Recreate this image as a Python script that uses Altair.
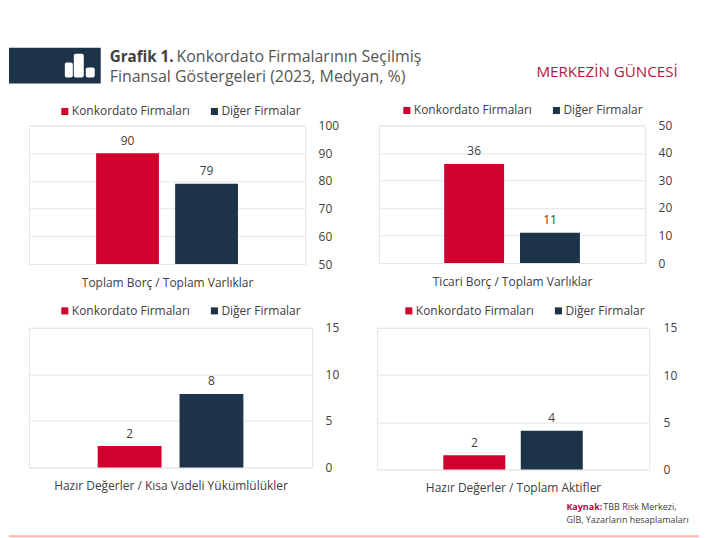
import altair as alt
import pandas as pd

FONT = "Open Sans"
TXT = "#404040"
RED = "#d0002f"
NAVY = "#1d3349"
GRID = "#e6e6e6"
series = ["Konkordato Firmaları", "Diğer Firmalar"]

titles = ["Toplam Borç / Toplam Varlıklar", "Ticari Borç / Toplam Varlıklar",
          "Hazır Değerler / Kısa Vadeli Yükümlülükler", "Hazır Değerler / Toplam Aktifler"]
values = [[90, 79], [36, 11], [2.3, 7.9], [1.5, 4.1]]
labels = [["90", "79"], ["36", "11"], ["2", "8"], ["2", "4"]]
domains = [[50, 100], [0, 50], [0, 15], [0, 15]]
tick_vals = [[50, 60, 70, 80, 90, 100], [0, 10, 20, 30, 40, 50], [0, 5, 10, 15], [0, 5, 10, 15]]
widths = [277, 267, 284, 273]
heights = [139, 138, 140, 142]
pad_in = [0.205, 0.21, 0.22, 0.2]
pad_out = [0.85, 0.86, 0.84, 0.857]
label_pad = [13, 13, 13, 14]
legend_x = [30, 22, 30, 26]
legend_y = [-20, -21, -23, -23]


def tx(text, x, y, size, color, weight="normal"):
    return alt.Chart(pd.DataFrame({"t": [text]})).mark_text(
        align="left", baseline="middle", font=FONT, fontSize=size, color=color, fontWeight=weight
    ).encode(x=alt.value(x), y=alt.value(y), text="t:N")


def block(x, x2, y, y2, color, r=0):
    return alt.Chart(pd.DataFrame({"a": [0]})).mark_rect(color=color, cornerRadius=r).encode(
        x=alt.value(x), x2=alt.value(x2), y=alt.value(y), y2=alt.value(y2))


def panel(i, extras=()):
    df = pd.DataFrame({"s": series, "v": values[i], "l": labels[i]})
    x = alt.X("s:N", sort=series, title=titles[i],
              scale=alt.Scale(paddingInner=pad_in[i], paddingOuter=pad_out[i]),
              axis=alt.Axis(labels=False, ticks=False, domain=False, titleFont=FONT, titleFontSize=12,
                            titleFontWeight="normal", titleColor=TXT, titlePadding=13.5))
    y = alt.Y("v:Q", title=None,
              scale=alt.Scale(domain=domains[i], nice=False, clamp=True),
              axis=alt.Axis(orient="right", values=tick_vals[i], domain=False, ticks=False,
                            labelPadding=label_pad[i], labelAlign="left", labelFont=FONT, labelFontSize=12,
                            labelColor=TXT, gridColor=GRID, grid=True))
    base = alt.Chart(df).encode(x=x, y=y)
    bars = base.mark_bar().encode(
        color=alt.Color("s:N", sort=series, title=None,
                        scale=alt.Scale(domain=series, range=[RED, NAVY]),
                        legend=alt.Legend(orient="none", legendX=legend_x[i], legendY=legend_y[i],
                                          direction="horizontal", symbolType="square", symbolSize=50,
                                          columnPadding=18, labelFont=FONT, labelFontSize=12, labelColor=TXT,
                                          labelOffset=1, symbolStrokeWidth=0)))
    txt = base.mark_text(baseline="bottom", dy=-5.5, font=FONT, fontSize=12, color=TXT).encode(text="l:N")
    return alt.layer(bars, txt, *extras).properties(width=widths[i], height=heights[i])


# header, drawn relative to the first panel
header = [
    block(-20, 72, -78, -42, NAVY),
    block(36, 44, -63, -48, "white", 2),
    block(45, 55, -72, -48, "white", 2),
    block(57, 66, -58, -48, "white", 2),
    tx("Grafik 1.", 81, -69, 15.2, "#404040", "bold"),
    tx("Konkordato Firmalarının Seçilmiş", 148, -69, 16, "#555555"),
    tx("Finansal Göstergeleri (2023, Medyan, %)", 81, -49, 16, "#555555"),
    tx("MERKEZİN GÜNCESİ", 509, -54, 15.2, "#b5173f"),
]
# source note and rule, drawn relative to the third panel
footer = [
    tx("Kaynak:", 539, 180, 9, "#c0003a", "bold"),
    tx("TBB Risk Merkezi,", 576, 180, 9, TXT),
    tx("GİB, Yazarların hesaplamaları", 539, 193, 9, TXT),
    block(-20, 672, 208, 210, "#ffb3ab"),
]

row1 = alt.hconcat(panel(0, header), panel(1), spacing=74, bounds="flush").resolve_scale(color="independent")
row2 = alt.hconcat(panel(2, footer), panel(3), spacing=65, bounds="flush").resolve_scale(color="independent")

chart = alt.vconcat(row1, row2, spacing=203, bounds="flush").properties(
    padding={"left": 0, "top": 38, "right": 0, "bottom": 0}
).configure_view(stroke=GRID)
chart.save("out.html", embed_options={"renderer": "svg", "actions": False})
